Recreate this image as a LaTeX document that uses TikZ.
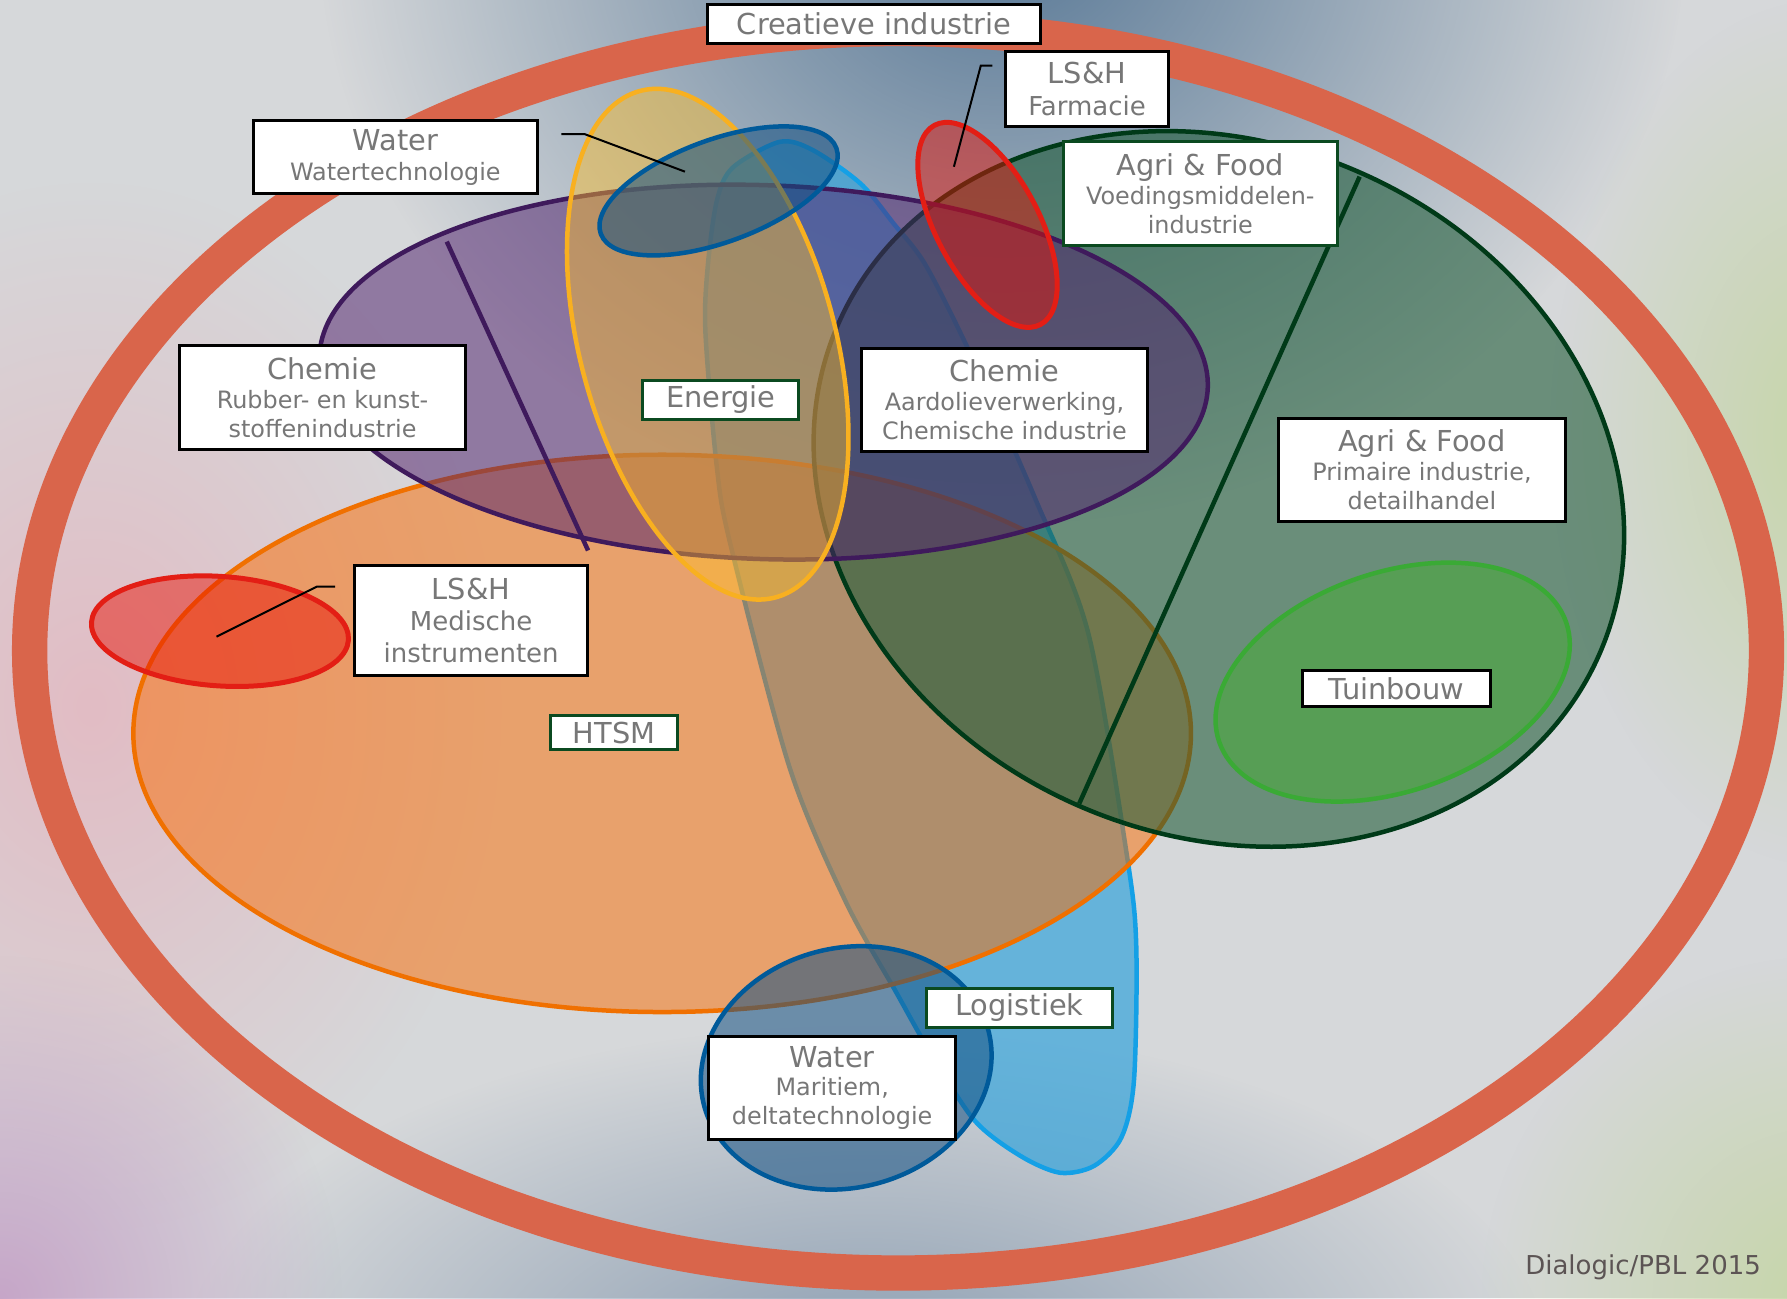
\documentclass[tikz,border=0pt]{standalone}
\usepackage{fontspec}
\setmainfont{DejaVu Sans}
\usetikzlibrary{fadings}

% colours
\definecolor{bggray}{HTML}{D6D8DA}
\definecolor{bgblue}{HTML}{587896}
\definecolor{bgsteel}{HTML}{8C9EB2}
\definecolor{bgpink}{HTML}{E2BCC4}
\definecolor{bgmauve}{HTML}{C6A6C8}
\definecolor{bggreen}{HTML}{C6D6A8}
\definecolor{ringred}{HTML}{D9654B}
\definecolor{htsmorange}{HTML}{FA6B00}
\definecolor{htsmline}{HTML}{F07000}
\definecolor{chempurple}{HTML}{53256F}
\definecolor{chemline}{HTML}{3F1A5C}
\definecolor{agrigreen}{HTML}{225D3B}
\definecolor{agriline}{HTML}{003A18}
\definecolor{tuingreen}{HTML}{46AE31}
\definecolor{tuinline}{HTML}{3AAA35}
\definecolor{energyellow}{HTML}{FFBE28}
\definecolor{energline}{HTML}{F8B020}
\definecolor{logblue}{HTML}{36A4DB}
\definecolor{logline}{HTML}{14A0E6}
\definecolor{waterblue}{HTML}{145082}
\definecolor{waterline}{HTML}{005A9A}
\definecolor{lshred}{HTML}{E81104}
\definecolor{lshline}{HTML}{E31E15}
\definecolor{boxgreen}{HTML}{0B4A20}
\definecolor{labelgray}{HTML}{777777}
\definecolor{creditgray}{HTML}{5C5454}

\newcommand\pxu{0.11397mm}
\newcommand\hd{\fontsize{8.2}{9.8}\selectfont}

\tikzfading[name=blobfade, inner color=transparent!0, outer color=transparent!100]

\begin{document}
\begin{tikzpicture}[x=0.11397mm, y=-0.11397mm,
  sector/.style={line width=0.45mm},
  lbl/.style={draw=black, fill=white, line width=0.3mm, text=labelgray,
    align=center, inner sep=0pt, font=\fontsize{6.8}{8.2}\selectfont},
  lblg/.style={lbl, draw=boxgreen},
  leader/.style={draw=black, line width=0.2mm}]

\useasboundingbox (0,0) rectangle (1568,1139);

% background
\begin{scope}
  \clip (0,0) rectangle (1568,1139);
  \fill[bggray] (0,0) rectangle (1568,1139);
  \fill[bgblue, path fading=blobfade] (880,-60) ellipse [x radius=600, y radius=520];
  \fill[bgsteel, path fading=blobfade] (760,1200) ellipse [x radius=600, y radius=300];
  \fill[bgpink, path fading=blobfade] (80,620) ellipse [x radius=360, y radius=460];
  \fill[bgmauve, path fading=blobfade] (0,1139) ellipse [x radius=300, y radius=300];
  \fill[bggreen, path fading=blobfade] (1600,380) ellipse [x radius=240, y radius=380];
  \fill[bggreen, path fading=blobfade] (1600,1139) ellipse [x radius=300, y radius=300];
\end{scope}

% outer ring
\draw[ringred, line width=31*\pxu] (788,571) ellipse [x radius=762, y radius=546];

% Logistiek
\filldraw[sector, fill=logblue, fill opacity=0.7, draw=logline] plot[smooth cycle] coordinates {
  (684,124.5) (713,131.6) (755,161) (784,196) (813,234) (857,322) (909,439)
  (955,556) (989,752) (997,830) (995,948) (984,998) (960,1023) (930,1029)
  (895,1014) (855,983) (816,923) (786,870) (742,791) (693,674) (641,478)
  (629,410) (619,292) (621,234) (629,176) (643,147)};

% HTSM
\filldraw[sector, fill=htsmorange, fill opacity=0.5, draw=htsmline] (581,643.5) ellipse [x radius=464, y radius=244.5];

% Agri & Food
\filldraw[sector, fill=agrigreen, fill opacity=0.6, draw=agriline, rotate around={-23:(1069.5,429)}]
  (1069.5,429) ellipse [x radius=364, y radius=304];
\draw[sector, draw=agriline] (1193,155) -- (947,705);

% Tuinbouw
\filldraw[sector, fill=tuingreen, fill opacity=0.5, draw=tuinline, rotate around={19:(1222,598.5)}]
  (1222,598.5) ellipse [x radius=161, y radius=96];

% Chemie
\filldraw[sector, fill=chempurple, fill opacity=0.53, draw=chemline, rotate around={-2:(670,326.5)}]
  (670,326.5) ellipse [x radius=390, y radius=164];
\draw[sector, draw=chemline] (392,212) -- (516,483);

% Energie
\filldraw[sector, fill=energyellow, fill opacity=0.45, draw=energline, rotate around={15:(621,302)}]
  (621,302) ellipse [x radius=112, y radius=230];

% Water
\filldraw[sector, fill=waterblue, fill opacity=0.55, draw=waterline, rotate around={20:(630.5,167.5)}]
  (630.5,167.5) ellipse [x radius=110, y radius=45];
\filldraw[sector, fill=waterblue, fill opacity=0.55, draw=waterline, rotate around={15:(742.5,937)}]
  (742.5,937) ellipse [x radius=129, y radius=105];

% LS&H
\filldraw[sector, fill=lshred, fill opacity=0.48, draw=lshline, line width=0.5mm, rotate around={28:(866.5,197.3)}]
  (866.5,197.3) ellipse [x radius=45, y radius=99];
\filldraw[sector, fill=lshred, fill opacity=0.48, draw=lshline, line width=0.5mm, rotate around={-4:(193,553.8)}]
  (193,553.8) ellipse [x radius=113, y radius=48];

% leaders
\coordinate (farm-in) at (837,146.3);
\coordinate (farm-knee) at (860.6,57.6);
\coordinate (farm-out) at (870.7,57.6);
\coordinate (watt-in) at (601,150.6);
\coordinate (watt-knee) at (512.8,117.6);
\coordinate (watt-out) at (492.6,117.6);
\coordinate (lshm-in) at (190,558.6);
\coordinate (lshm-knee) at (277.8,514.8);
\coordinate (lshm-out) at (294,514.8);
\draw[leader] (farm-in) -- (farm-knee) -- (farm-out);
\draw[leader] (watt-in) -- (watt-knee) -- (watt-out);
\draw[leader] (lshm-in) -- (lshm-knee) -- (lshm-out);

% labels
\node[lbl, font=\hd, minimum width=292*\pxu, minimum height=34*\pxu] (creat) at (767,21) {Creatieve industrie};
\node[lbl, font=\fontsize{7.4}{9}\selectfont, minimum width=142.5*\pxu, minimum height=66*\pxu] (farm) at (953.8,78.2) {{\hd LS\&H}\\Farmacie};
\node[lbl, font=\fontsize{6.8}{8.5}\selectfont, minimum width=249*\pxu, minimum height=64*\pxu] (watt) at (346.9,137.8) {{\hd Water}\\Watertechnologie};
\node[lbl, minimum width=251*\pxu, minimum height=91*\pxu] (chemr) at (283,349) {{\hd Chemie}\\Rubber- en kunst-\\stoffenindustrie};
\node[lblg, font=\hd, minimum width=137*\pxu, minimum height=34.5*\pxu] (energ) at (632.5,350.7) {Energie};
\node[lbl, minimum width=251*\pxu, minimum height=90*\pxu] (chema) at (881.4,351) {{\hd Chemie}\\Aardolieverwerking,\\Chemische industrie};
\node[lblg, minimum width=240.4*\pxu, minimum height=90.7*\pxu] (agriv) at (1053.2,169.7) {{\hd Agri \& Food}\\Voedingsmiddelen-\\industrie};
\node[lbl, minimum width=251*\pxu, minimum height=90.7*\pxu] (agrip) at (1247.7,412.4) {{\hd Agri \& Food}\\Primaire industrie,\\detailhandel};
\node[lbl, font=\hd, minimum width=165*\pxu, minimum height=31.3*\pxu] (tuin) at (1225.4,604.4) {Tuinbouw};
\node[lbl, font=\fontsize{7.4}{9}\selectfont, minimum width=204*\pxu, minimum height=96*\pxu] (lshm) at (413.4,544.4) {{\hd LS\&H}\\Medische\\instrumenten};
\node[lblg, font=\hd, minimum width=111.4*\pxu, minimum height=30*\pxu] (htsm) at (538.9,643) {HTSM};
\node[lblg, font=\hd, minimum width=163*\pxu, minimum height=34.5*\pxu] (logis) at (894.5,884.4) {Logistiek};
\node[lbl, minimum width=217*\pxu, minimum height=91*\pxu] (watm) at (730.2,954.6) {{\hd Water}\\Maritiem,\\deltatechnologie};

\node[anchor=base east, inner sep=0pt, text=creditgray, font=\fontsize{7.4}{9}\selectfont] (credit) at (1545.7,1118.7) {Dialogic/PBL 2015};

\end{tikzpicture}
\end{document}
